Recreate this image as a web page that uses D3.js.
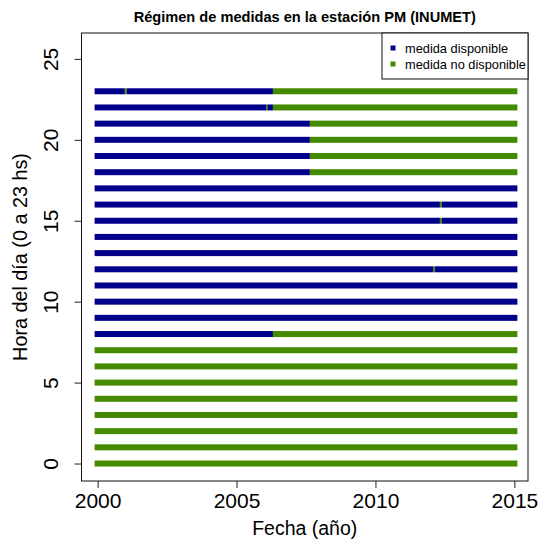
<!DOCTYPE html>
<html lang="es">
<head>
<meta charset="utf-8">
<title>Régimen de medidas en la estación PM (INUMET)</title>
<script src="https://cdn.jsdelivr.net/npm/d3@7"></script>
<style>
  html, body { margin: 0; padding: 0; background: #fff; }
  #chart { width: 542px; height: 540px; }
  text { font-family: "Liberation Sans", Arial, Helvetica, sans-serif; fill: #000; }
</style>
</head>
<body>
<div id="chart"></div>
<script>
// Datos: una fila por hora del día, con los años donde cambia el estado
const hours = [0, 1, 2, 3, 4, 5, 6, 7, 8, 9, 10, 11, 12, 13, 14, 15, 16, 17, 18, 19, 20, 21, 22, 23];
const periodYears = [2000, 2015];
// estado del primer tramo de cada hora (1 = disponible, 0 = no disponible)
const firstStatus = [0, 0, 0, 0, 0, 0, 0, 0, 1, 1, 1, 1, 1, 1, 1, 1, 1, 1, 1, 1, 1, 1, 1, 1];
// años donde el estado alterna
const breakYears = [
  [], [], [], [], [], [], [], [],
  [2006.31],
  [], [], [],
  [2012.07, 2012.13],
  [], [],
  [2012.32, 2012.39],
  [2012.32, 2012.39],
  [],
  [2007.64], [2007.64], [2007.64], [2007.64],
  [2006.06, 2006.11, 2006.31],
  [2000.98, 2001.05, 2006.31]
];
const xTicks = [2000, 2005, 2010, 2015];
const yTicks = [0, 5, 10, 15, 20, 25];
const statusLabels = ['medida no disponible', 'medida disponible'];
const statusColors = ['#458B00', '#00008B'];

function renderRegimen(containerSelector) {
  const container = d3.select(containerSelector);
  container.selectAll('*').remove();

  const W = 542, H = 540;
  const margin = { top: 33, right: 14, bottom: 59, left: 81.5 };
  const innerW = W - margin.left - margin.right;
  const innerH = H - margin.top - margin.bottom;

  const svg = container.append('svg')
    .attr('width', W)
    .attr('height', H);

  const g = svg.append('g')
    .attr('transform', `translate(${margin.left},${margin.top})`);

  // Escalas (con el margen extra que deja R alrededor de los datos)
  const x = d3.scaleLinear().domain([1999.42, 2015.49]).range([0, innerW]);
  const y = d3.scaleLinear().domain([-1.08, 26.6]).range([innerH, 0]);

  // Tramos de cada hora
  const segments = [];
  hours.forEach((h, i) => {
    const cuts = [periodYears[0], ...breakYears[i], periodYears[1]];
    let st = firstStatus[i];
    for (let k = 0; k < cuts.length - 1; k++) {
      segments.push({ hour: h, start: cuts[k], end: cuts[k + 1], status: st, first: k === 0, last: k === cuts.length - 2 });
      st = 1 - st;
    }
  });

  const half = 3; // medio ancho del marcador cuadrado
  g.append('g').selectAll('rect')
    .data(segments)
    .enter()
    .append('rect')
    .attr('x', d => x(d.start) - (d.first ? half : 0))
    .attr('width', d => x(d.end) - x(d.start) + (d.first ? half : 0) + (d.last ? half : 0))
    .attr('y', d => y(d.hour) - half)
    .attr('height', half * 2)
    .attr('fill', d => statusColors[d.status]);

  // Ejes
  const xAxis = d3.axisBottom(x).tickValues(xTicks).tickFormat(d3.format('d')).tickSize(7).tickPadding(4);
  const gx = g.append('g')
    .attr('transform', `translate(0,${innerH})`)
    .call(xAxis);
  gx.select('.domain').remove();
  gx.selectAll('line').attr('stroke', '#222');
  gx.selectAll('text')
    .attr('font-size', 21)
    .attr('dy', null)
    .attr('y', 27)
    .attr('fill', '#111');

  const yAxis = d3.axisLeft(y).tickValues(yTicks).tickSize(7);
  const gy = g.append('g').call(yAxis);
  gy.select('.domain').remove();
  gy.selectAll('line').attr('stroke', '#222');
  gy.selectAll('text')
    .attr('font-size', 21)
    .attr('x', null)
    .attr('dy', null)
    .attr('text-anchor', 'middle')
    .attr('transform', 'translate(-23.5,0) rotate(-90)')
    .attr('y', 0)
    .attr('fill', '#111');

  // Caja del gráfico
  g.append('rect')
    .attr('width', innerW)
    .attr('height', innerH)
    .attr('fill', 'none')
    .attr('stroke', '#111')
    .attr('stroke-width', 1);

  // Títulos
  svg.append('text')
    .attr('x', margin.left + innerW / 2)
    .attr('y', 22)
    .attr('text-anchor', 'middle')
    .attr('font-size', 14.6)
    .attr('font-weight', 'bold')
    .text('Régimen de medidas en la estación PM (INUMET)');

  svg.append('text')
    .attr('x', margin.left + innerW / 2)
    .attr('y', 535)
    .attr('text-anchor', 'middle')
    .attr('font-size', 19.5)
    .text('Fecha (año)');

  svg.append('text')
    .attr('transform', `translate(27,${margin.top + innerH / 2}) rotate(-90)`)
    .attr('text-anchor', 'middle')
    .attr('font-size', 19.8)
    .text('Hora del día (0 a 23 hs)');

  // Leyenda
  const legendW = 146, legendH = 46;
  const lg = g.append('g')
    .attr('transform', `translate(${innerW - legendW},0)`);
  lg.append('rect')
    .attr('width', legendW)
    .attr('height', legendH)
    .attr('fill', '#fff')
    .attr('stroke', '#111');

  const legendItems = [1, 0];
  legendItems.forEach((s, i) => {
    const cy = 15 + i * 16;
    lg.append('rect')
      .attr('x', 8.5)
      .attr('y', cy - 2.5)
      .attr('width', 5)
      .attr('height', 5)
      .attr('fill', statusColors[s]);
    lg.append('text')
      .attr('x', 23)
      .attr('y', cy + 4.5)
      .attr('font-size', 12.8)
      .attr('fill', '#111')
      .text(statusLabels[s]);
  });
}

renderRegimen('#chart');
</script>
</body>
</html>
